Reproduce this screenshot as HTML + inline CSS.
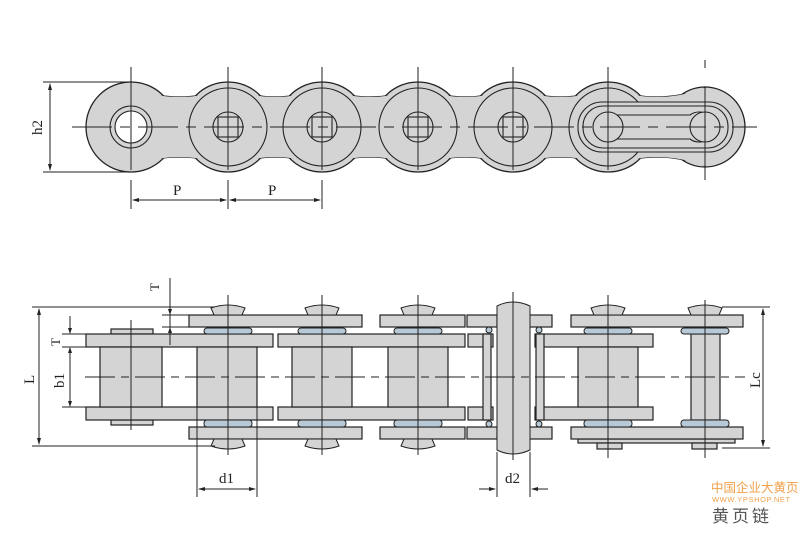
<!DOCTYPE html>
<html><head><meta charset="utf-8"><style>
html,body{margin:0;padding:0;background:#fff}
svg{display:block}
text{font-family:"Liberation Serif",serif;fill:#222}
</style></head><body>
<svg width="800" height="533" viewBox="0 0 800 533" xmlns="http://www.w3.org/2000/svg">
<defs>
<path id="band" d="M131 88 Q179.5 106 228 88 Q275 106 322 88 Q370 106 418 88 Q465.5 106 513 88 Q560.5 106 608 88 Q656.5 106 705 88 L705 166 Q656.5 148 608 166 Q560.5 148 513 166 Q465.5 148 418 166 Q370 148 322 166 Q275 148 228 166 Q179.5 148 131 166 Z"/>
</defs>
<!-- TOP VIEW -->
<g stroke="#222" stroke-width="1.3" fill="#d4d4d4">
  <circle cx="131" cy="127" r="45"/>
  <circle cx="228" cy="127" r="45"/>
  <circle cx="322" cy="127" r="45"/>
  <circle cx="418" cy="127" r="45"/>
  <circle cx="513" cy="127" r="45"/>
  <circle cx="608" cy="127" r="45"/>
  <circle cx="705" cy="127" r="40"/>
  <use href="#band"/>
</g>
<g fill="#d4d4d4" stroke="none">
  <circle cx="131" cy="127" r="44"/>
  <circle cx="228" cy="127" r="44"/>
  <circle cx="322" cy="127" r="44"/>
  <circle cx="418" cy="127" r="44"/>
  <circle cx="513" cy="127" r="44"/>
  <circle cx="608" cy="127" r="44"/>
  <circle cx="705" cy="127" r="39"/>
  <use href="#band"/>
</g>
<g stroke="#222" stroke-width="1.1" fill="none">
  <circle cx="228" cy="127" r="39"/>
  <circle cx="322" cy="127" r="39"/>
  <circle cx="418" cy="127" r="39"/>
  <circle cx="513" cy="127" r="39"/>
  <circle cx="608" cy="127" r="39"/>
  <circle cx="131" cy="127" r="21"/>
  <circle cx="131" cy="127" r="16" fill="#fff"/>
  <g fill="#d4d4d4">
  <circle cx="228" cy="127" r="15"/><rect x="218" y="117" width="20" height="20"/>
  <circle cx="322" cy="127" r="15"/><rect x="312" y="117" width="20" height="20"/>
  <circle cx="418" cy="127" r="15"/><rect x="408" y="117" width="20" height="20"/>
  <circle cx="513" cy="127" r="15"/><rect x="503" y="117" width="20" height="20"/>
  <rect x="578" y="102" width="155" height="50" rx="24" fill="#d4d4d4"/>
  <rect x="583" y="106" width="145" height="42" rx="20"/>
  <path d="M608 115 L690 115 A15 15 0 1 1 690 139 L608 139 Z"/>
  <circle cx="608" cy="127" r="15"/>
  <circle cx="705" cy="127" r="15"/>
  </g>
</g>
<g stroke="#222" stroke-width="1">
  <line x1="72" y1="127" x2="757" y2="127" stroke-dasharray="40,8,10,8"/>
  <line x1="131" y1="67" x2="131" y2="170"/>
  <line x1="228" y1="67" x2="228" y2="170"/>
  <line x1="322" y1="67" x2="322" y2="170"/>
  <line x1="418" y1="67" x2="418" y2="170"/>
  <line x1="513" y1="67" x2="513" y2="170"/>
  <line x1="608" y1="67" x2="608" y2="170"/>
  <line x1="705" y1="60" x2="705" y2="68"/>
  <line x1="705" y1="88" x2="705" y2="180"/>
  <line x1="43" y1="82" x2="131" y2="82"/>
  <line x1="43" y1="172" x2="131" y2="172"/>
  <line x1="50" y1="84" x2="50" y2="170"/>
  <line x1="131" y1="180" x2="131" y2="209"/>
  <line x1="228" y1="180" x2="228" y2="209"/>
  <line x1="322" y1="180" x2="322" y2="209"/>
  <line x1="133" y1="200" x2="226" y2="200"/>
  <line x1="230" y1="200" x2="320" y2="200"/>
</g>
<g fill="#222">
  <path d="M50 83 l-2 7 h4z"/><path d="M50 171 l-2 -7 h4z"/>
  <path d="M132 200 l7 -2 v4z"/><path d="M227 200 l-7 -2 v4z"/>
  <path d="M229 200 l7 -2 v4z"/><path d="M321 200 l-7 -2 v4z"/>
</g>
<text font-size="15" transform="translate(42,135) rotate(-90)">h2</text>
<text x="173" y="195" font-size="15">P</text>
<text x="268" y="195" font-size="15">P</text>

<!-- BOTTOM VIEW -->
<g stroke="#222" stroke-width="1.2" fill="#d4d4d4">
  <rect x="111" y="329" width="42" height="5"/>
  <rect x="111" y="420" width="42" height="5"/>
  <rect x="86" y="334" width="187" height="13"/><rect x="86" y="407" width="187" height="13"/>
  <rect x="278" y="334" width="187" height="13"/><rect x="278" y="407" width="187" height="13"/>
  <rect x="468" y="334" width="25" height="13"/><rect x="468" y="407" width="25" height="13"/>
  <rect x="535" y="334" width="118" height="13"/><rect x="535" y="407" width="118" height="13"/>
  <rect x="100" y="347" width="62" height="60"/>
  <rect x="197" y="347" width="60" height="60"/>
  <rect x="292" y="347" width="60" height="60"/>
  <rect x="388" y="347" width="60" height="60"/>
  <rect x="578" y="347" width="60" height="60"/>
  <rect x="691" y="334" width="29" height="86"/>
  <rect x="483" y="334" width="8" height="86"/>
  <rect x="536" y="334" width="8" height="86"/>
  <rect x="578" y="439" width="157" height="4"/>
  <rect x="597" y="443" width="25" height="6"/>
  <rect x="692" y="443" width="25" height="6"/>
  <rect x="189" y="315" width="173" height="12"/><rect x="189" y="427" width="173" height="12"/>
  <rect x="380" y="315" width="85" height="12"/><rect x="380" y="427" width="85" height="12"/>
  <rect x="467" y="315" width="30" height="12"/><rect x="467" y="427" width="30" height="12"/>
  <rect x="528" y="315" width="24" height="12"/><rect x="528" y="427" width="24" height="12"/>
  <rect x="571" y="315" width="172" height="12"/><rect x="571" y="427" width="172" height="12"/>
</g>
<g stroke="#222" stroke-width="1" fill="#b7c9d6">
  <rect x="204" y="328" width="48" height="6" rx="3"/><rect x="204" y="420" width="48" height="7" rx="3"/>
  <rect x="298" y="328" width="48" height="6" rx="3"/><rect x="298" y="420" width="48" height="7" rx="3"/>
  <rect x="394" y="328" width="48" height="6" rx="3"/><rect x="394" y="420" width="48" height="7" rx="3"/>
  <rect x="584" y="328" width="48" height="6" rx="3"/><rect x="584" y="420" width="48" height="7" rx="3"/>
  <rect x="681" y="328" width="48" height="6" rx="3"/><rect x="681" y="420" width="48" height="7" rx="3"/>
  <circle cx="489" cy="330" r="3"/><circle cx="539" cy="330" r="3"/>
  <circle cx="489" cy="424" r="3"/><circle cx="539" cy="424" r="3"/>
</g>
<g stroke="#222" stroke-width="1" fill="#d4d4d4">
  <path d="M211 308 Q228 302 245 308 L242 315 L214 315 Z"/><path d="M211 446 Q228 452 245 446 L242 439 L214 439 Z"/>
  <path d="M305 308 Q322 302 339 308 L336 315 L308 315 Z"/><path d="M305 446 Q322 452 339 446 L336 439 L308 439 Z"/>
  <path d="M401 308 Q418 302 435 308 L432 315 L404 315 Z"/><path d="M401 446 Q418 452 435 446 L432 439 L404 439 Z"/>
  <path d="M591 308 Q608 302 625 308 L622 315 L594 315 Z"/>
  <path d="M688 308 Q705 302 722 308 L719 315 L691 315 Z"/>
  <path d="M497 306 Q513 298 530 306 L530 450 Q513 458 497 450 Z"/>
</g>
<g stroke="#222" stroke-width="1">
  <line x1="85" y1="377" x2="745" y2="377" stroke-dasharray="30,6,8,6"/>
  <line x1="131" y1="320" x2="131" y2="430"/>
  <line x1="228" y1="295" x2="228" y2="455"/>
  <line x1="322" y1="295" x2="322" y2="455"/>
  <line x1="418" y1="295" x2="418" y2="455"/>
  <line x1="513" y1="292" x2="513" y2="460"/>
  <line x1="608" y1="295" x2="608" y2="458"/>
  <line x1="705" y1="300" x2="705" y2="458"/>
  <line x1="32" y1="307" x2="215" y2="307"/>
  <line x1="32" y1="446" x2="215" y2="446"/>
  <line x1="39" y1="309" x2="39" y2="444"/>
  <line x1="62" y1="334" x2="90" y2="334"/>
  <line x1="62" y1="347" x2="100" y2="347"/>
  <line x1="62" y1="407" x2="100" y2="407"/>
  <line x1="70" y1="316" x2="70" y2="333"/>
  <line x1="70" y1="348" x2="70" y2="406"/>
  <line x1="170" y1="278" x2="170" y2="345"/>
  <line x1="162" y1="315" x2="189" y2="315"/>
  <line x1="162" y1="327" x2="189" y2="327"/>
  <line x1="722" y1="307" x2="770" y2="307"/>
  <line x1="722" y1="448" x2="770" y2="448"/>
  <line x1="763" y1="309" x2="763" y2="446"/>
  <line x1="197" y1="407" x2="197" y2="497"/>
  <line x1="257" y1="407" x2="257" y2="497"/>
  <line x1="199" y1="489" x2="255" y2="489"/>
  <line x1="497" y1="452" x2="497" y2="497"/>
  <line x1="530" y1="452" x2="530" y2="497"/>
  <line x1="479" y1="489" x2="495" y2="489"/>
  <line x1="532" y1="489" x2="548" y2="489"/>
</g>
<g fill="#222">
  <path d="M39 308 l-2 7 h4z"/><path d="M39 445 l-2 -7 h4z"/>
  <path d="M70 334 l-2 -6 h4z"/><path d="M70 347 l-2 6 h4z"/><path d="M70 407 l-2 -6 h4z"/>
  <path d="M170 315 l-2 -6 h4z"/><path d="M170 327 l-2 6 h4z"/>
  <path d="M763 308 l-2 7 h4z"/><path d="M763 447 l-2 -7 h4z"/>
  <path d="M198 489 l7 -2 v4z"/><path d="M256 489 l-7 -2 v4z"/>
  <path d="M496 489 l-7 -2 v4z"/><path d="M531 489 l7 -2 v4z"/>
</g>
<text font-size="13" transform="translate(159,291) rotate(-90)">T</text>
<text font-size="13" transform="translate(60,346) rotate(-90)">T</text>
<text font-size="15" transform="translate(34,384) rotate(-90)">L</text>
<text font-size="15" transform="translate(64,388) rotate(-90)">b1</text>
<text font-size="15" transform="translate(760,388) rotate(-90)">Lc</text>
<text x="219" y="483" font-size="15">d1</text>
<text x="505" y="483" font-size="15">d2</text>
<text x="711" y="492" font-size="12.5" style="font-family:'Noto Sans CJK SC',sans-serif;fill:#f0a04a">中国企业大黄页</text>
<text x="712" y="502" font-size="7.5" style="font-family:'Liberation Sans',sans-serif;fill:#f0a04a;letter-spacing:0.6px">WWW.YPSHOP.NET</text>
<text x="712" y="522" font-size="17" style="font-family:'Noto Sans CJK SC',sans-serif;fill:#555;letter-spacing:3px">黄页链</text>
</svg>
</body></html>
